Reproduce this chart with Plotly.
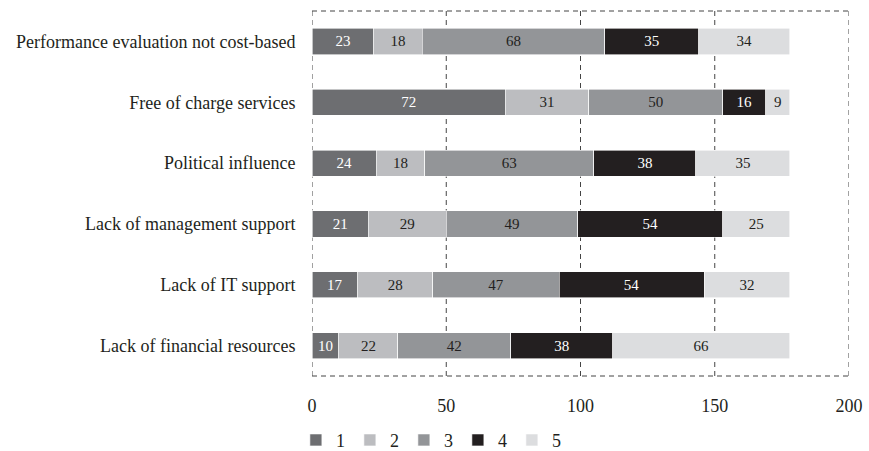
import plotly.graph_objects as go

categories = [
    "Lack of financial resources",
    "Lack of IT support",
    "Lack of management support",
    "Political influence",
    "Free of charge services",
    "Performance evaluation not cost-based",
]
s1 = [10, 17, 21, 24, 72, 23]
s2 = [22, 28, 29, 18, 31, 18]
s3 = [42, 47, 49, 63, 50, 68]
s4 = [38, 54, 54, 38, 16, 35]
s5 = [66, 32, 25, 35, 9, 34]
series_names = ["1", "2", "3", "4", "5"]
colors = ["#6d6e71", "#bcbdc0", "#939598", "#231f20", "#dcdddf"]
text_colors = ["#ffffff", "#231f20", "#231f20", "#ffffff", "#231f20"]
x_ticks = [0, 50, 100, 150, 200]

SERIF = "Liberation Serif, Times New Roman, serif"

fig = go.Figure()
for name, vals, c, tc in zip(series_names, [s1, s2, s3, s4, s5], colors, text_colors):
    fig.add_trace(go.Bar(
        y=categories, x=vals, name=name, orientation="h",
        marker=dict(color=c, line=dict(color="white", width=0.6)),
        text=vals, textposition="inside", insidetextanchor="middle",
        textfont=dict(family=SERIF, size=15, color=tc),
        width=0.43, cliponaxis=False,
    ))

grid = "#444444"
dash = "5px,4px"
shapes = [
    dict(type="line", xref="x domain", yref="y domain", x0=0, x1=1, y0=1, y1=1,
         line=dict(color=grid, width=1, dash=dash), layer="below"),
    dict(type="line", xref="x domain", yref="y domain", x0=0, x1=1, y0=0, y1=0,
         line=dict(color=grid, width=1, dash=dash), layer="below"),
]
for t in x_ticks:
    shapes.append(dict(type="line", xref="x", yref="y domain", x0=t, x1=t, y0=0, y1=1,
                       line=dict(color=grid, width=1, dash=dash), layer="below"))

# figure is a bit taller than the 451px window (extra is clipped) so the
# legend can sit near the bottom edge without shrinking the plot area
fig.update_layout(
    barmode="stack",
    width=869, height=475,
    margin=dict(l=312, r=20, t=11, b=99),
    paper_bgcolor="white", plot_bgcolor="white",
    font=dict(family=SERIF, size=18, color="#231f20"),
    uniformtext=dict(mode="show", minsize=10),
    showlegend=True,
    legend=dict(orientation="h", x=-0.03, xanchor="left", y=-0.176, yanchor="middle",
                font=dict(size=18), traceorder="normal", itemwidth=30),
    xaxis=dict(range=[0, 200], tickvals=x_ticks, showgrid=False, zeroline=False,
               showline=False, ticks="outside", ticklen=13, tickcolor="rgba(0,0,0,0)",
               automargin=False),
    yaxis=dict(showgrid=False, zeroline=False, showline=False,
               ticks="outside", ticklen=12, tickcolor="rgba(0,0,0,0)",
               range=[-0.5, 5.5], automargin=False),
    shapes=shapes,
)

fig.write_html(
    "out.html",
    config={"displayModeBar": False},
    post_script="document.body.style.margin='0';document.body.style.overflow='hidden';",
)
